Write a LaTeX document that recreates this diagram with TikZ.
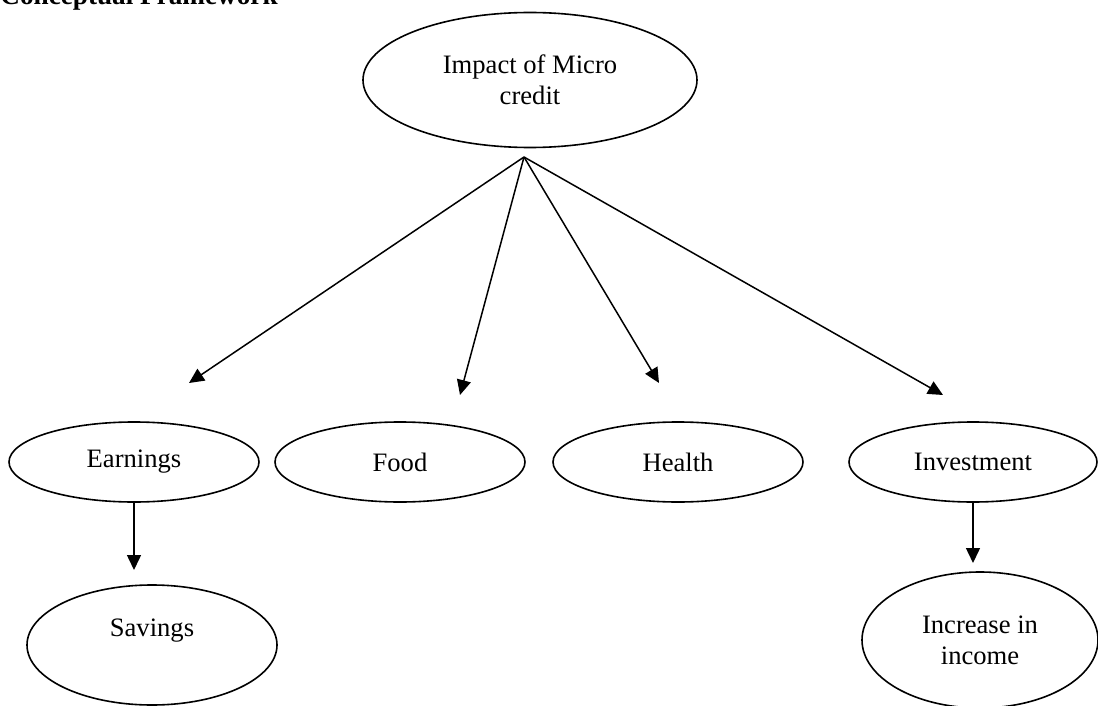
\documentclass[tikz,border=0pt]{standalone}
\usepackage{fontspec}
\setmainfont{Liberation Serif}
\usetikzlibrary{arrows.meta,shapes.geometric}
\tikzset{
  >={Triangle[length=7.5pt,width=7pt]},
  txt/.style   ={font=\fontsize{13.3}{15.5}\selectfont},
  bubble/.style={draw, ellipse, line width=0.8pt, inner sep=0pt, align=center, txt,
                 minimum width=125pt, minimum height=40pt},
  link/.style  ={->, line width=0.75pt}
}
\begin{document}
\begin{tikzpicture}[x=0.5pt,y=-0.5pt]
\useasboundingbox (0,0) rectangle (1098,706);
\node[anchor=base west, inner sep=0pt, font=\fontsize{13.6}{15.5}\selectfont\bfseries] (title) at (0,5) {Conceptual Framework};
\node[bubble, minimum width=167pt, minimum height=67.5pt] (impact) at (530,80) {Impact of Micro\\credit};
\node[bubble] (earn)   at (134,462) {Earnings};
\node[bubble] (food)   at (400,462) {Food};
\node[bubble] (health) at (678,462) {Health};
\node[bubble, minimum width=124pt] (invest) at (973,462) {Investment};
\node[bubble, minimum height=60pt, label={[txt, yshift=7pt]center:Savings}] (save) at (152,645) {};
\node[bubble, minimum width=118pt, minimum height=68pt] (income) at (980,640) {Increase in\\income};
% arrow ends
\coordinate (hub) at (524,157);
\coordinate (toearn)   at (189,383);
\coordinate (tofood)   at (460,395);
\coordinate (tohealth) at (659,383);
\coordinate (toinvest) at (943,395);
\coordinate (tosave)   at (earn.south |- 0,570);
\coordinate (toincome) at (invest.south |- 0,563);
\draw[link] (hub) -- (toearn);
\draw[link] (hub) -- (tofood);
\draw[link] (hub) -- (tohealth);
\draw[link] (hub) -- (toinvest);
\draw[link] (earn.south) -- (tosave);
\draw[link] (invest.south) -- (toincome);
\end{tikzpicture}
\end{document}
